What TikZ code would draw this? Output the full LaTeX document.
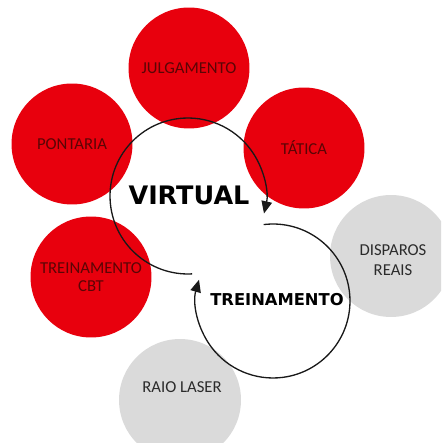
\documentclass[tikz,border=0pt]{standalone}
\usepackage{fontspec}
\setmainfont{Carlito}
\newfontfamily\ringfont{DejaVu Sans}
\usetikzlibrary{arrows.meta, calc}
\definecolor{redcol}{HTML}{E8000D}
\definecolor{redtxt}{HTML}{5A0505}
\definecolor{greycol}{HTML}{DADADA}
\definecolor{greytxt}{HTML}{2B2B2B}
\tikzset{
  rnode/.style={circle, fill=redcol,  minimum size=2.42cm, inner sep=0pt, text=redtxt,  font=\fontsize{9.5}{10.5}\selectfont, align=center},
  gnode/.style={circle, fill=greycol, minimum size=2.44cm, inner sep=0pt, text=greytxt, font=\fontsize{9.5}{10.5}\selectfont, align=center},
  ring/.style={line width=0.75pt, draw=black!90},
  tag/.style={font=\ringfont\bfseries, text=black},
}

\begin{document}
\begin{tikzpicture}[x=0.02cm, y=0.02cm, >={Triangle[length=7pt, width=6pt]}]
  \useasboundingbox (0,0) rectangle (441,443);
  \clip (0,0) rectangle (441,443);
  % red bubbles
  \node[rnode] (julg) at (189,375) {JULGAMENTO};
  \node[rnode] (pont) at (72,299)  {PONTARIA};
  \node[rnode] (tat)  at (304,295) {TÁTICA};
  \node[rnode] (cbt)  at (91,166)  {TREINAMENTO\\CBT};
  % grey bubbles
  \node[gnode] (disp) at (391,187) {};
  \node[gnode] (raio) at (180,43)  {};
  \node[text=greytxt, font=\fontsize{9.5}{11.5}\selectfont, align=center] at (393,183) {DISPAROS\\REAIS};
  \node[text=greytxt, font=\fontsize{9.5}{10.5}\selectfont] at (182,56) {RAIO LASER};
  % the two rings
  \coordinate (vc) at (188,247);
  \coordinate (tc) at (273,142);
  \coordinate (vstart) at ($(vc)+(273:1.56cm)$);
  \coordinate (tstart) at ($(tc)+(97:1.54cm)$);
  \draw[ring, ->] (vstart) arc[start angle=273, end angle=-13, radius=1.56cm];
  \draw[ring, ->] (tstart) arc[start angle=97, end angle=-196, radius=1.54cm];
  \node[tag, font=\ringfont\bfseries\fontsize{14.5}{16}\selectfont] (virt) at (189,248) {VIRTUAL};
  \node[tag, font=\ringfont\bfseries\fontsize{9.3}{11}\selectfont] (trein) at (277,143) {TREINAMENTO};
\end{tikzpicture}
\end{document}
